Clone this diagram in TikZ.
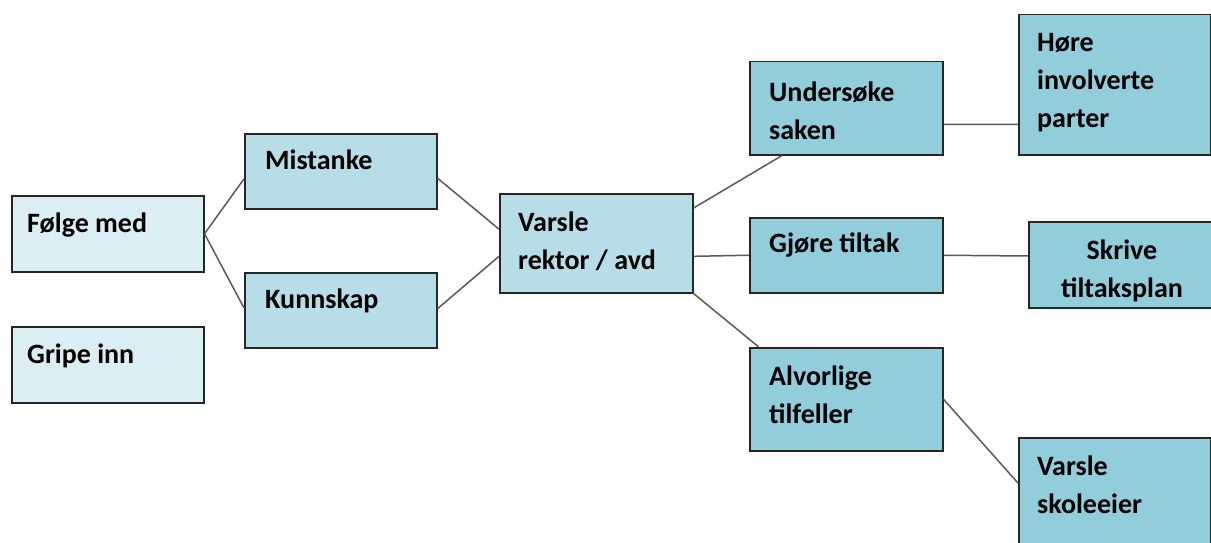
\documentclass[tikz,border=0pt]{standalone}
\usepackage{fontspec}
\setmainfont{Carlito}
\usetikzlibrary{calc}
\definecolor{fillA}{HTML}{DAEEF3}
\definecolor{fillB}{HTML}{B7DEE8}
\definecolor{fillC}{HTML}{92CDDC}
\definecolor{edgeC}{HTML}{262626}
\definecolor{lineC}{HTML}{595959}
\tikzset{
  boxbase/.style={draw=edgeC, line width=1.5pt, rectangle, inner sep=0pt, anchor=north west},
  boxA/.style={boxbase, fill=fillA},
  boxB/.style={boxbase, fill=fillB},
  boxC/.style={boxbase, fill=fillC},
  lbl/.style={font=\fontsize{28}{38}\selectfont\bfseries, anchor=base west, inner sep=0pt, align=left},
  lblc/.style={font=\fontsize{28}{38}\selectfont\bfseries, anchor=base, inner sep=0pt, align=center},
  conn/.style={draw=lineC, line width=1.5pt}
}
\newcommand{\mybox}[6]{% name, style, x1, y1, x2, y2
  \node[#2, minimum width=#5pt-#3pt, minimum height=#6pt-#4pt] (#1) at (#3,#4) {};}
\begin{document}
\begin{tikzpicture}[x=1pt, y=-1pt]
\useasboundingbox (0,0) rectangle (1211,543);
% boxes
\mybox{folge}{boxA}{11}{195}{203}{271}
\mybox{gripe}{boxA}{11}{326}{203}{402}
\mybox{mist}{boxB}{244}{133}{436}{208}
\mybox{kunn}{boxB}{244}{272}{436}{347}
\mybox{varsle}{boxB}{499}{193}{692}{292}
\mybox{under}{boxC}{749}{61}{942}{154}
\mybox{hore}{boxC}{1018}{14}{1210}{154}
\mybox{gjore}{boxC}{749}{217}{942}{292}
\mybox{skrive}{boxC}{1028}{221}{1225}{307}
\mybox{alvor}{boxC}{749}{347}{942}{450}
\mybox{skole}{boxC}{1018}{437}{1210}{560}
% connectors
\draw[conn] (folge.east) -- ($(mist.north west)!0.6!(mist.south west)$);
\draw[conn] (folge.east) -- ($(kunn.north west)!0.47!(kunn.south west)$);
\draw[conn] ($(mist.north east)!0.59!(mist.south east)$) -- ($(varsle.north west)!0.36!(varsle.south west)$);
\draw[conn] ($(kunn.north east)!0.48!(kunn.south east)$) -- ($(varsle.north west)!0.63!(varsle.south west)$);
\draw[conn] ($(varsle.north east)!0.15!(varsle.south east)$) -- ($(under.south west)!0.17!(under.south east)$);
\draw[conn] ($(varsle.north east)!0.63!(varsle.south east)$) -- ($(gjore.north west)!0.5!(gjore.south west)$);
\draw[conn] (varsle.south east) -- ($(alvor.north west)!0.05!(alvor.north east)$);
\draw[conn] ($(under.north east)!0.67!(under.south east)$) -- ($(hore.north west)!0.78!(hore.south west)$);
\draw[conn] ($(gjore.north east)!0.5!(gjore.south east)$) -- ($(skrive.north west)!0.4!(skrive.south west)$);
\draw[conn] ($(alvor.north east)!0.5!(alvor.south east)$) -- ($(skole.north west)!0.37!(skole.south west)$);
% labels
\node[lbl] (t-folge) at ($(folge.north west)+(16,37)$) {Følge med};
\node[lbl] (t-gripe) at ($(gripe.north west)+(16,37)$) {Gripe inn};
\node[lbl] (t-mist) at ($(mist.north west)+(21,36)$) {Mistanke};
\node[lbl] (t-kunn) at ($(kunn.north west)+(21,36)$) {Kunnskap};
\node[lbl, anchor=north west] (t-varsle) at ($(varsle.north west)+(19,19)$) {Varsle\\rektor / avd};
\node[lbl, anchor=north west] (t-under) at ($(under.north west)+(20,21)$) {Undersøke\\saken};
\node[lbl, anchor=north west] (t-hore) at ($(hore.north west)+(19,19)$) {Høre\\involverte\\parter};
\node[lbl] (t-gjore) at ($(gjore.north west)+(20,35)$) {Gjøre tiltak};
\node[lblc, anchor=north] (t-skrive) at (1122,240) {Skrive\\tiltaksplan};
\node[lbl, anchor=north west] (t-alvor) at ($(alvor.north west)+(20,19)$) {Alvorlige\\tilfeller};
\node[lbl, anchor=north west] (t-skole) at ($(skole.north west)+(19,19)$) {Varsle\\skoleeier};
\end{tikzpicture}
\end{document}
